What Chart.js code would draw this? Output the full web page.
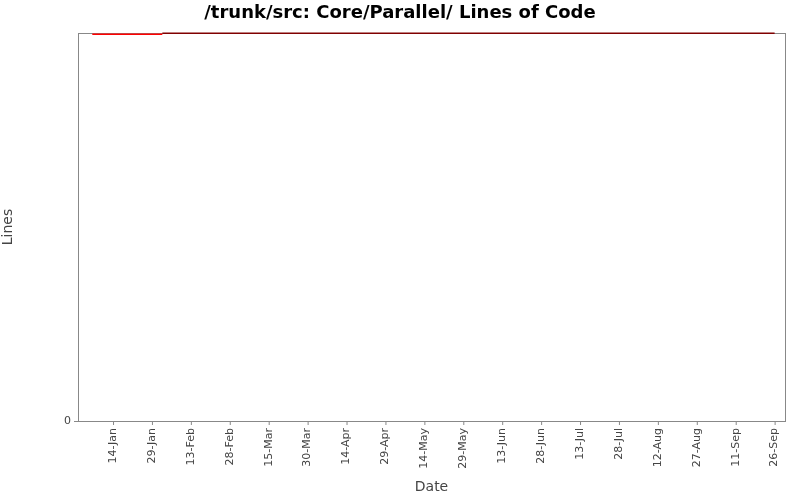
<!DOCTYPE html>
<html><head><meta charset="utf-8">
<script src="https://cdn.jsdelivr.net/npm/chart.js@4/dist/chart.umd.min.js"></script>
<style>html,body{margin:0;padding:0;background:#fff}#wrap{width:800px;height:500px}</style>
</head><body><div id="wrap"><canvas id="c" width="800" height="500"></canvas></div>
<script>
const DAY = 86400000;
const d = (m, day) => Date.UTC(2007, m - 1, day);
const earlyDates = [d(1,6), d(2,2)];
const earlyLines = [6060, 6060];
const lateDates = [d(2,2), d(9,26)];
const lateLines = [6074, 6074];
const tickDates = [d(1,14), d(1,29), d(2,13), d(2,28), d(3,15), d(3,30), d(4,14), d(4,29), d(5,14), d(5,29), d(6,13), d(6,28), d(7,13), d(7,28), d(8,12), d(8,27), d(9,11), d(9,26)];
const months = ['Jan','Feb','Mar','Apr','May','Jun','Jul','Aug','Sep','Oct','Nov','Dec'];
const fmt = v => { const t = new Date(v); return t.getUTCDate() + '-' + months[t.getUTCMonth()]; };

const deco = {
  id: 'deco',
  afterDraw(chart) {
    const {ctx, chartArea: a, scales} = chart;
    ctx.save();
    ctx.fillStyle = '#000'; ctx.font = 'bold 18px "DejaVu Sans"'; ctx.textAlign = 'center'; ctx.textBaseline = 'middle';
    ctx.fillText('/trunk/src: Core/Parallel/ Lines of Code', 400, 13);
    ctx.font = '11px "DejaVu Sans"'; ctx.fillStyle = '#444';
    tickDates.forEach(t => {
      const x = scales.x.getPixelForValue(t);
      ctx.strokeStyle = '#888';
      ctx.beginPath(); ctx.moveTo(x + 0.5, a.bottom); ctx.lineTo(x + 0.5, a.bottom + 4); ctx.stroke();
      ctx.save(); ctx.translate(x, a.bottom + 7); ctx.rotate(-Math.PI / 2);
      ctx.textAlign = 'right'; ctx.textBaseline = 'middle'; ctx.fillText(fmt(t), 0, 0);
      ctx.restore();
    });
    ctx.restore();
  },
  beforeDatasetsDraw(chart) {
    const {ctx, chartArea: a} = chart;
    ctx.save(); ctx.strokeStyle = '#888'; ctx.lineWidth = 1;
    ctx.strokeRect(a.left + 0.5, a.top + 0.5, a.right - a.left, a.bottom - a.top);
    ctx.restore();
  }
};

new Chart(document.getElementById('c'), {
  type: 'line',
  data: { datasets: [
    { data: earlyDates.map((x, i) => ({x, y: earlyLines[i]})), borderColor: '#ff0000', borderWidth: 1.5, pointRadius: 0, clip: false },
    { data: lateDates.map((x, i) => ({x, y: lateLines[i]})), borderColor: '#800000', borderWidth: 1.5, pointRadius: 0, clip: false }
  ]},
  options: {
    responsive: false, animation: false,
    layout: { padding: { top: 33, right: 15, left: 0, bottom: 0 } },
    plugins: { legend: { display: false }, tooltip: { enabled: false }, title: { display: false } },
    scales: {
      x: { type: 'linear', min: d(1,1) - 0.5 * DAY, max: d(9,30),
        ticks: { display: false }, grid: { display: false }, border: { display: false },
        title: { display: true, text: 'Date', font: { size: 14, family: 'DejaVu Sans' }, color: '#444', padding: { top: 0, bottom: 4 } },
        afterFit(s) { s.height = 79; } },
      y: { min: 0, max: 6078,
        afterBuildTicks(s) { s.ticks = s.ticks.filter(t => Math.abs(t.value % 500) < 1e-6); },
        ticks: { stepSize: 500, maxTicksLimit: 30, color: '#444', font: { size: 11, family: 'DejaVu Sans' }, padding: 3, callback: v => v.toLocaleString('en-US') },
        grid: { drawOnChartArea: false, tickLength: 4, color: '#888' }, border: { color: '#888' },
        title: { display: true, text: 'Lines', font: { size: 14, family: 'DejaVu Sans' }, color: '#444', padding: { top: 0, bottom: 6 } },
        afterFit(s) { s.width = 78; } }
    }
  },
  plugins: [deco]
});
</script></body></html>
